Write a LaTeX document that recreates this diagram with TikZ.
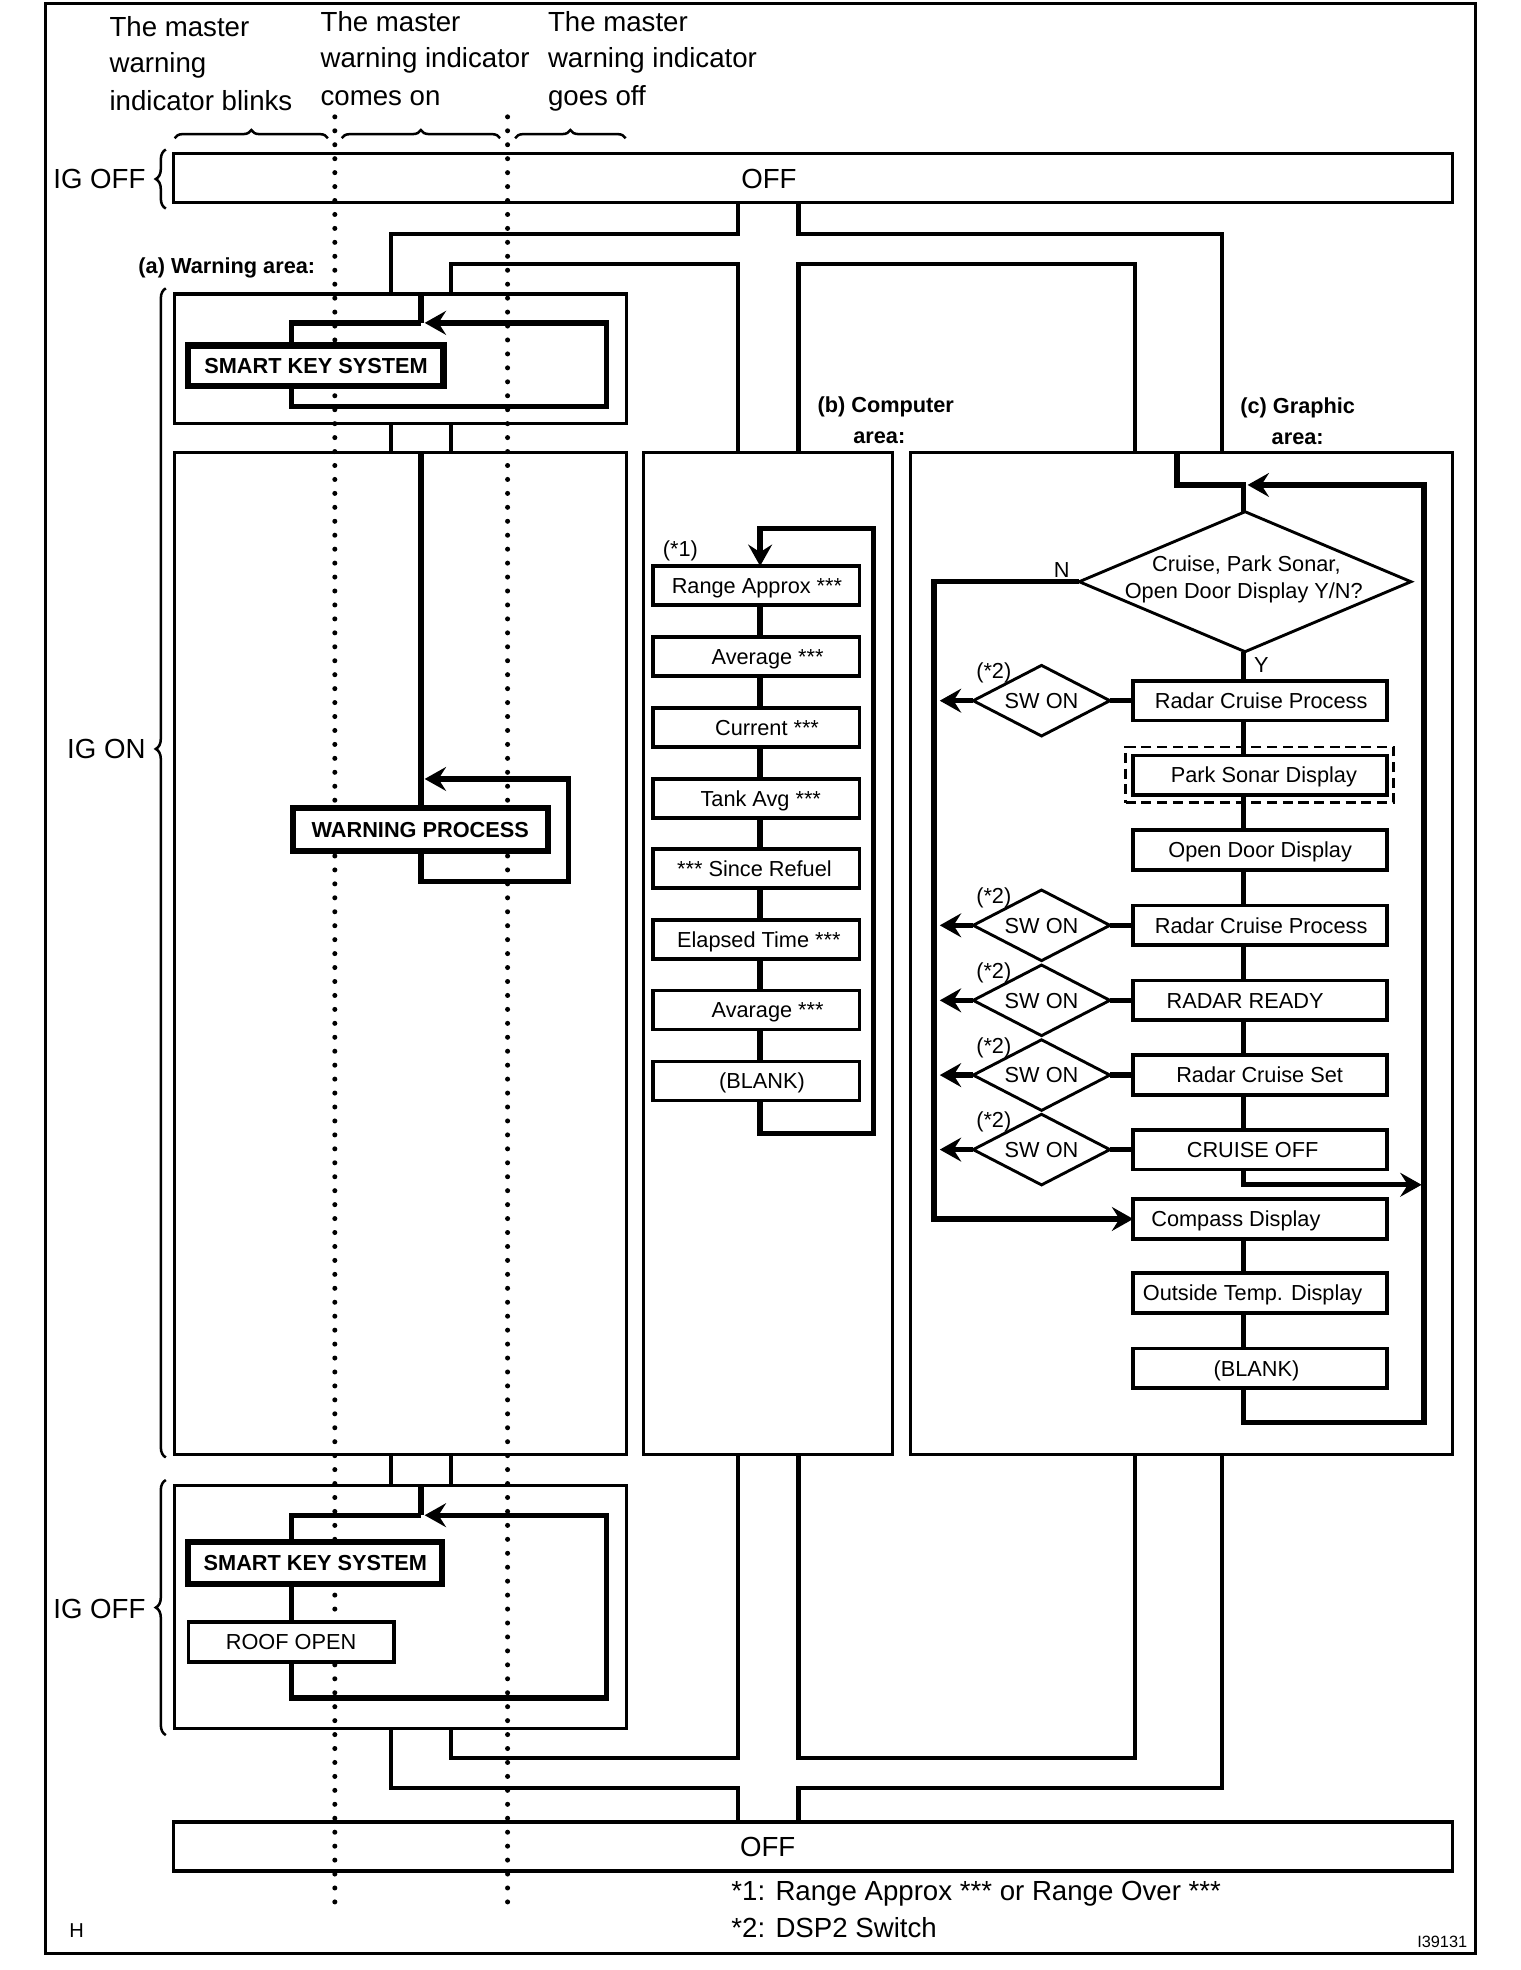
\documentclass[tikz,border=0pt]{standalone}
\usepackage{fontspec}
\setmainfont{Liberation Sans}
\usetikzlibrary{arrows.meta,shapes.geometric,decorations.pathreplacing}
\newcommand\myboxfont{\fontsize{17.3}{20}\selectfont}
\newcommand\myboldfont{\bfseries\fontsize{17.3}{20}\selectfont}
\newcommand\myheadfont{\fontsize{22}{26}\selectfont}
\begin{document}
\begin{tikzpicture}[x=1pt,y=-1pt,
  frame/.style={line width=2.2pt},
  areabox/.style={draw, line width=2.4pt, inner sep=0pt, outer sep=0pt},
  offbox/.style={draw, line width=2.8pt, inner sep=0pt, outer sep=0pt},
  chan/.style={line width=3.3pt},
  flow/.style={line width=4.2pt},
  arr/.style={-{Stealth[length=17pt,width=19pt,inset=6pt]}},
  txt/.style={font=\myboxfont, text height=12.4pt, text depth=0pt, inner sep=0pt},
  txtb/.style={font=\myboldfont, text height=12.4pt, text depth=0pt, inner sep=0pt},
  txth/.style={font=\myheadfont, text height=15.75pt, text depth=0pt, inner sep=0pt},
  itembox/.style={draw, line width=2.9pt, fill=white, minimum width=164.5pt, minimum height=31pt, inner sep=0pt, outer sep=0pt},
  gbox/.style={draw, line width=2.9pt, fill=white, minimum width=202pt, minimum height=31.5pt, inner sep=0pt, outer sep=0pt},
  keybox/.style={draw, line width=4.8pt, fill=white, inner sep=0pt, outer sep=0pt},
  roofbox/.style={draw, line width=2.9pt, fill=white, inner sep=0pt, outer sep=0pt},
  decbox/.style={diamond, draw, line width=2.3pt, inner sep=0pt, outer sep=0pt},
  swbox/.style={diamond, draw, line width=2.3pt, inner sep=0pt, outer sep=0pt, minimum width=108.8pt, minimum height=56.2pt},
  dotline/.style={line width=4pt, line cap=round, dash pattern=on 0pt off 11.1pt},
  brc/.style={decorate, decoration={brace, amplitude=#1}, line width=2pt}
]
\useasboundingbox (0,0) rectangle (1210,1568);
\draw[frame] (36,3) rectangle (1174.5,1555);

% header texts
\node[txth, anchor=base west] (h1a) at (87,29) {The master};
\node[txth, anchor=base west] (h1b) at (87,58) {warning};
\node[txth, anchor=base west] (h1c) at (87,88) {indicator blinks};
\node[txth, anchor=base west] (h2a) at (255,25) {The master};
\node[txth, anchor=base west] (h2b) at (255,54) {warning indicator};
\node[txth, anchor=base west] (h2c) at (255,84) {comes on};
\node[txth, anchor=base west] (h3a) at (436,25) {The master};
\node[txth, anchor=base west] (h3b) at (436,54) {warning indicator};
\node[txth, anchor=base west] (h3c) at (436,84) {goes off};

% braces
\draw[brc=6.5pt] (139,110) -- (261,110);
\draw[brc=6.5pt] (272,110) -- (398,110);
\draw[brc=6.5pt] (410,110) -- (498,110);
\draw[brc=8pt] (132,166) -- (132,119);
\draw[decorate, decoration={brace, amplitude=8pt, aspect=0.606}, line width=2pt] (132,1160) -- (132,229.5);
\draw[brc=8pt] (132,1381) -- (132,1178);
\node[txth, anchor=east] (igoff1) at (116,142.5) {IG OFF};
\node[txth, anchor=east] (igon) at (116,596) {IG ON};
\node[txth, anchor=east] (igoff2) at (116,1280.5) {IG OFF};

% OFF boxes
\node[offbox, minimum width=1018pt, minimum height=39pt] (offT) at (647,141.5) {};
\node[txth] (offTt) at (612,142.5) {OFF};
\node[offbox, minimum width=1018pt, minimum height=39pt] (offB) at (647,1469.5) {};
\node[txth] (offBt) at (611,1469.5) {OFF};

% area boxes
\node[areabox, minimum width=359.5pt, minimum height=103pt] (wb1) at (318.75,285.5) {};
\node[areabox, minimum width=359.5pt, minimum height=797pt] (wb2) at (318.75,759) {};
\node[areabox, minimum width=359.5pt, minimum height=194pt] (wb3) at (318.75,1279) {};
\node[areabox, minimum width=197.5pt, minimum height=797pt] (cb) at (611.25,759) {};
\node[areabox, minimum width=431.5pt, minimum height=797pt] (gb) at (940.25,759) {};

\node[txtb, anchor=base west] (la) at (110,218) {(a) Warning area:};
\node[txtb, anchor=base west] (lb1) at (650.5,328.5) {(b) Computer};
\node[txtb, anchor=base west] (lb2) at (679,353) {area:};
\node[txtb, anchor=base west] (lc1) at (987,329) {(c) Graphic};
\node[txtb, anchor=base west] (lc2) at (1012,354) {area:};

% x positions
\coordinate (x311) at (311,0);
\coordinate (x359) at (359,0);
\coordinate (x587) at (587.5,0);
\coordinate (x636) at (635.5,0);
\coordinate (x903) at (903.3,0);
\coordinate (x972) at (972.4,0);
\coordinate (x335) at (335,0);
\coordinate (x232) at (231.8,0);
\coordinate (x605) at (605,0);
\coordinate (x990) at (990,0);
\coordinate (x937) at (936.7,0);
\coordinate (xN) at (748,0);

% channels
\draw[chan] (offT.south -| x587) -- (587.5,186) -- (311,186) -- (wb1.north -| x311);
\draw[chan] (offT.south -| x636) -- (635.5,186) -- (972.4,186) -- (gb.north -| x972);
\draw[chan] (wb1.north -| x359) -- (359,210) -- (587.5,210) -- (cb.north -| x587);
\draw[chan] (cb.north -| x636) -- (635.5,210) -- (903.3,210) -- (gb.north -| x903);
\draw[chan] (wb1.south -| x311) -- (wb2.north -| x311);
\draw[chan] (wb1.south -| x359) -- (wb2.north -| x359);
\draw[chan] (wb2.south -| x311) -- (wb3.north -| x311);
\draw[chan] (wb2.south -| x359) -- (wb3.north -| x359);
\draw[chan] (wb3.south -| x311) -- (311,1423) -- (587.5,1423) -- (offB.north -| x587);
\draw[chan] (gb.south -| x972) -- (972.4,1423) -- (635.5,1423) -- (offB.north -| x636);
\draw[chan] (wb3.south -| x359) -- (359,1399.5) -- (587.5,1399.5) -- (cb.south -| x587);
\draw[chan] (cb.south -| x636) -- (635.5,1399.5) -- (903.3,1399.5) -- (gb.south -| x903);

% dotted lines
\coordinate (d1t) at (266.5,93);
\coordinate (d1b) at (266.5,1521);
\coordinate (d2t) at (404,93);
\coordinate (d2b) at (404,1521);
\draw[dotline] (d1t) -- (d1b);
\draw[dotline] (d2t) -- (d2b);

% warning area 1
\coordinate (j1) at (335,257);
\draw[flow] (wb1.north -| x335) -- (j1);
\draw[flow] (231.8,290) -- (231.8,257) -- (j1);
\draw[flow,arr] (231.8,300) -- (231.8,323.5) -- (482.5,323.5) -- (482.5,257) -- (338,257);
\node[keybox, txtb, minimum width=203pt, minimum height=32pt] (sks1) at (251.5,291) {SMART KEY SYSTEM};

% warning area 2
\node[keybox, txtb, minimum width=203pt, minimum height=34pt] (wp) at (334.5,660) {WARNING PROCESS};
\draw[flow] (wb2.north -| x335) -- (wp.north -| x335);
\draw[flow,arr] (wp.south -| x335) -- (335,701.5) -- (452.5,701.5) -- (452.5,620) -- (338,620);

% warning area 3
\coordinate (j3) at (335,1206);
\draw[flow] (wb3.north -| x335) -- (j3);
\draw[flow] (231.8,1244) -- (231.8,1206) -- (j3);
\draw[flow] (231.8,1244) -- (231.8,1307);
\draw[flow,arr] (231.8,1307) -- (231.8,1351.5) -- (482.5,1351.5) -- (482.5,1206) -- (338,1206);
\node[keybox, txtb, minimum width=202pt, minimum height=33pt] (sks2) at (251,1244) {SMART KEY SYSTEM};
\node[roofbox, txt, minimum width=163.5pt, minimum height=32pt] (roof) at (231.7,1306.8) {ROOF OPEN};

% computer area
\node[itembox] (r1) at (601.75,466) {};
\node[itembox] (r2) at (601.75,522.5) {};
\node[itembox] (r3) at (601.75,579) {};
\node[itembox] (r4) at (601.75,635.5) {};
\node[itembox] (r5) at (601.75,691.5) {};
\node[itembox] (r6) at (601.75,748) {};
\node[itembox] (r7) at (601.75,804) {};
\node[itembox] (r8) at (601.75,860.5) {};
\foreach \a/\b in {r1/r2,r2/r3,r3/r4,r4/r5,r5/r6,r6/r7,r7/r8}
  \draw[flow] (\a.south -| x605) -- (\b.north -| x605);
\draw[flow,arr] (r8.south -| x605) -- (605,902) -- (695,902) -- (695,420.5) -- (605,420.5) -- (r1.north -| x605);
\node[txt] (r1t) at (602.5,466) {Range Approx ***};
\node[txt] (r2t) at (611,522.5) {Average ***};
\node[txt] (r3t) at (610.5,579) {Current ***};
\node[txt] (r4t) at (605.5,635.5) {Tank Avg ***};
\node[txt] (r5t) at (600.5,691.5) {*** Since Refuel};
\node[txt] (r6t) at (604,748) {Elapsed Time ***};
\node[txt] (r7t) at (611,804) {Avarage ***};
\node[txt] (r8t) at (606.5,860.5) {(BLANK)};
\node[txt] (s1) at (541.5,437) {(*1)};

% graphic area
\node[decbox, minimum width=264pt, minimum height=111.4pt] (q) at (991,463) {};
\node[txt] (qt1) at (992,449) {Cruise, Park Sonar,};
\node[txt] (qt2) at (990,470.5) {Open Door Display Y/N?};
\node[txt] (nl) at (845,453.7) {N};
\node[txt] (yl) at (1004,529.4) {Y};

\node[draw, line width=2.3pt, dash pattern=on 8pt off 4.5pt, minimum width=213pt, minimum height=44.4pt, inner sep=0pt] (g2d) at (1002.5,616.8) {};
\node[gbox] (g1) at (1003,557.7) {};
\node[gbox] (g2) at (1003,617) {};
\node[gbox] (g3) at (1003,676.6) {};
\node[gbox] (g4) at (1003,736.5) {};
\node[gbox] (g5) at (1003,796.2) {};
\node[gbox] (g6) at (1003,855.7) {};
\node[gbox] (g7) at (1003,915) {};
\node[gbox] (g8) at (1003,970.2) {};
\node[gbox] (g9) at (1003,1029.2) {};
\node[gbox] (g10) at (1003,1089) {};
\node[txt] (g1t) at (1003.8,557.7) {Radar Cruise Process};
\node[txt] (g2t) at (1006,617) {Park Sonar Display};
\node[txt] (g3t) at (1003,676.6) {Open Door Display};
\node[txt] (g4t) at (1003.8,736.5) {Radar Cruise Process};
\node[txt] (g5t) at (991,796.2) {RADAR READY};
\node[txt] (g6t) at (1002.6,855.7) {Radar Cruise Set};
\node[txt] (g7t) at (997,915) {CRUISE OFF};
\node[txt] (g8t) at (983.7,970.2) {Compass Display};
\node[txt] (g9t) at (997,1029.2) {Outside Temp. Display};
\node[txt] (g10t) at (1000,1089) {(BLANK)};

\draw[flow] (gb.north -| x937) -- (936.7,386) -- (990,386) -- (q.north -| x990);
\draw[flow] (q.south -| x990) -- (g1.north -| x990);
\foreach \a/\b in {g1/g2,g2/g3,g3/g4,g4/g5,g5/g6,g6/g7,g8/g9,g9/g10}
  \draw[flow] (\a.south -| x990) -- (\b.north -| x990);
\draw[flow,arr] (g7.south -| x990) -- (990,943) -- (1131.5,943);
\draw[flow,arr] (g10.south -| x990) -- (990,1132) -- (1133.5,1132) -- (1133.5,386) -- (993,386);
\draw[flow,arr] (q.west) -- (743.5,463) -- (743.5,970.2) -- (g8.west);

% SW ON diamonds
\foreach \n/\g/\yy in {1/g1/557.7,2/g4/736.5,3/g5/796.2,4/g6/855.7,5/g7/915}{
  \node[swbox] (d\n) at (829,\yy) {};
  \node[txt] (d\n t) at (829,\yy) {SW ON};
  \node[txt] (d\n s) at (791,\yy-23.7) {(*2)};
  \draw[flow] (\g.west) -- (d\n.east);
  \draw[flow,arr] (d\n.west) -- (d\n.west -| xN);
}

% footnotes
\node[txth, anchor=base west] (fn1) at (582,1513) {*1: Range Approx *** or Range Over ***};
\node[txth, anchor=base west] (fn2) at (582,1542.5) {*2: DSP2 Switch};
\node[font=\fontsize{16}{18}\selectfont, anchor=base west, inner sep=0pt] (hh) at (55,1542) {H};
\node[font=\fontsize{13}{15}\selectfont, anchor=base east, inner sep=0pt] (code) at (1168,1550) {I39131};
\end{tikzpicture}
\end{document}
